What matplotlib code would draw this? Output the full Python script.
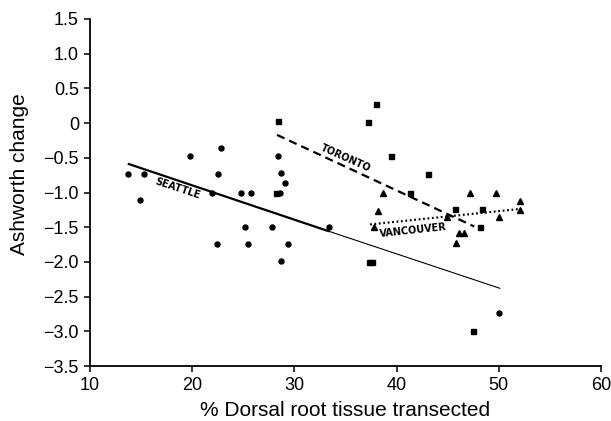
import numpy as np
import matplotlib
matplotlib.use('Agg')
import matplotlib.pyplot as plt
from matplotlib import rcParams

rcParams['font.family'] = 'Liberation Sans'
rcParams['font.size'] = 13
rcParams['xtick.direction'] = 'out'
rcParams['ytick.direction'] = 'out'

# Seattle (circles)
seattle_x = [13.7, 15.3, 14.9, 19.8, 22.8, 22.5, 21.9, 24.8, 25.8, 28.4, 28.7,
             29.1, 28.6, 25.2, 27.8, 33.4, 22.4, 25.5, 29.4, 28.7, 50.0]
seattle_y = [-0.73, -0.73, -1.11, -0.48, -0.36, -0.73, -1.0, -1.0, -1.0, -0.48,
             -0.72, -0.86, -1.0, -1.49, -1.49, -1.49, -1.74, -1.74, -1.74,
             -1.99, -2.73]

# Toronto (squares)
toronto_x = [28.4, 28.2, 38.0, 37.2, 39.5, 43.1, 41.3, 45.7, 48.4, 48.2, 47.5,
             37.3, 37.6]
toronto_y = [0.03, -1.0, 0.27, 0.02, -0.48, -0.73, -1.0, -1.24, -1.24, -1.49,
             -2.99, -2.0, -2.0]

# Vancouver (triangles)
vancouver_x = [38.7, 38.2, 37.8, 44.9, 45.8, 46.1, 46.6, 47.2, 49.7, 50.0,
               52.1, 52.1]
vancouver_y = [-1.0, -1.27, -1.5, -1.36, -1.73, -1.59, -1.59, -1.0, -1.0,
               -1.36, -1.12, -1.25]

# regression lines (end points)
seattle_fit_x = [13.7, 33.4, 50.1]
seattle_fit_y = [-0.585, -1.56, -2.38]
toronto_fit_x = [28.3, 47.6]
toronto_fit_y = [-0.17, -1.49]
vancouver_fit_x = [37.4, 51.9]
vancouver_fit_y = [-1.46, -1.24]

xticks = [10, 20, 30, 40, 50, 60]
yticks = [1.5, 1.0, 0.5, 0, -0.5, -1.0, -1.5, -2.0, -2.5, -3.0, -3.5]
ytick_labels = ['1.5', '1.0', '0.5', '0', '\u22120.5', '\u22121.0', '\u22121.5',
                '\u22122.0', '\u22122.5', '\u22123.0', '\u22123.5']

fig = plt.figure(figsize=(6.11, 4.21), dpi=100)
ax = fig.add_axes([0.1473, 0.1306, 0.8363, 0.8243])

ax.plot(seattle_x, seattle_y, 'o', color='k', markersize=3.6)
ax.plot(toronto_x, toronto_y, 's', color='k', markersize=3.6)
ax.plot(vancouver_x, vancouver_y, '^', color='k', markersize=4.6)

# Seattle: thick over data range, thin extrapolation
ax.plot(seattle_fit_x[:2], seattle_fit_y[:2], color='k', linewidth=1.6,
        solid_capstyle='butt')
ax.plot(seattle_fit_x[1:], seattle_fit_y[1:], color='k', linewidth=0.8)
ax.plot(toronto_fit_x, toronto_fit_y, color='k', linewidth=1.6,
        dashes=(3.7, 2.3))
ax.plot(vancouver_fit_x, vancouver_fit_y, color='k', linewidth=1.6,
        dashes=(0.8, 1.2))

lab = dict(family='DejaVu Sans', fontweight='bold', fontsize=7,
           ha='center', va='center', rotation_mode='anchor')
ax.text(18.55, -0.95, 'SEATTLE', rotation=-18.4, **lab)
ax.text(35.0, -0.50, 'TORONTO', rotation=-24, **lab)
ax.text(41.6, -1.545, 'VANCOUVER', rotation=6, **lab)

ax.set_xlim(10, 60)
ax.set_ylim(-3.5, 1.5)
ax.set_xticks(xticks)
ax.set_yticks(yticks)
ax.set_yticklabels(ytick_labels)

for s in ['top', 'right']:
    ax.spines[s].set_visible(False)
for s in ['left', 'bottom']:
    ax.spines[s].set_linewidth(1.3)
ax.tick_params(axis='both', length=4.5, width=1.1, labelsize=13, pad=3.5)

ax.set_xlabel('% Dorsal root tissue transected', fontsize=15)
ax.set_ylabel('Ashworth change', fontsize=15)
ax.xaxis.set_label_coords(0.5, -0.127)
ax.yaxis.set_label_coords(-0.137, 0.553)
ax.xaxis.label.set_va('center')
ax.yaxis.label.set_va('center')

fig.savefig('out.png', dpi=100)
